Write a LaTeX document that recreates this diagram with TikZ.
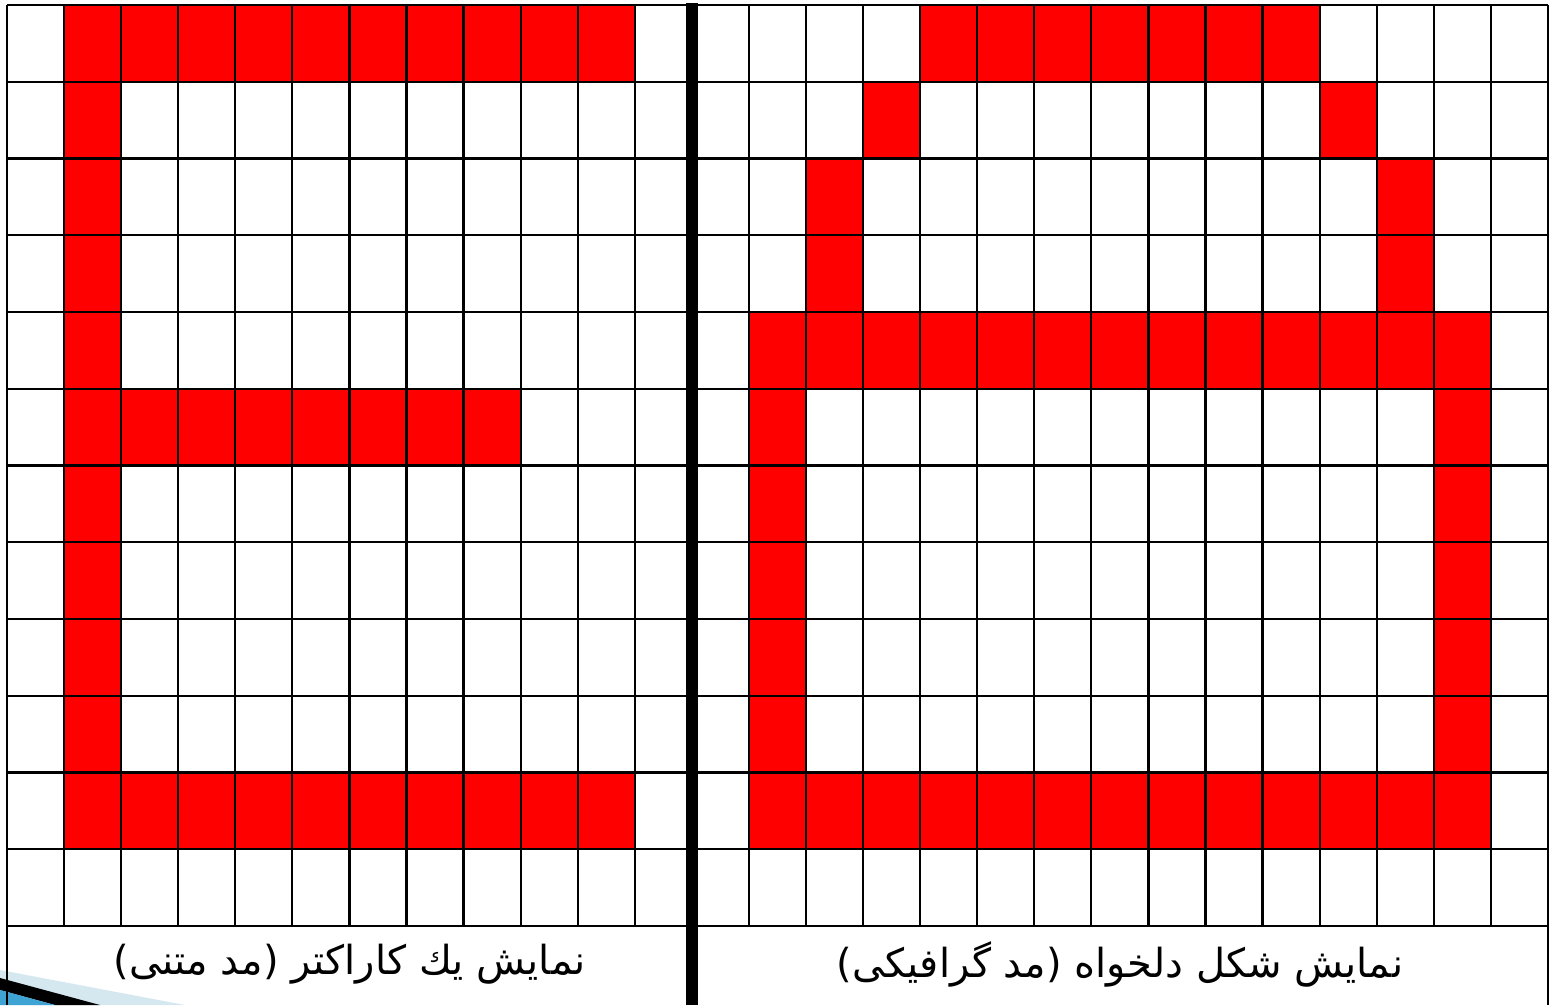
\documentclass[tikz,border=0pt]{standalone}
\usepackage{fontspec}
\newfontfamily\arabicfont[Script=Arabic]{DejaVu Sans}
\TeXXeTstate=1
\definecolor{cellred}{HTML}{FF0000}
\definecolor{decolight}{HTML}{D5E8F0}
\definecolor{decomid}{HTML}{3FA3D4}
\newcommand\redcell[2]{\fill[cellred] ({7+#1*57.07},{5+#2*76.75}) rectangle ++(57.07,76.75);}
\tikzset{
  gridline/.style={line width=2.2pt, black},
  sepline/.style={line width=12pt, black},
  caption/.style={font=\arabicfont\fontsize{40}{46}\selectfont, inner sep=0pt}
}
\begin{document}
\begin{tikzpicture}[x=1pt,y=-1pt]
\useasboundingbox (0,0) rectangle (1552,1005);
\fill[white] (0,0) rectangle (1552,1005);
% corner decoration
\fill[decolight] (0,970) -- (185,1005) -- (0,1005) -- cycle;
\fill[black] (0,978) -- (100,1005) -- (55,1005) -- (0,990) -- cycle;
\fill[decomid] (0,990) -- (55,1005) -- (0,1005) -- cycle;
% left grid red cells
\foreach \c in {1,...,10} {\redcell{\c}{0}\redcell{\c}{10}}
\foreach \r in {1,...,9} {\redcell{1}{\r}}
\foreach \c in {2,...,8} {\redcell{\c}{5}}
% right grid red cells
\foreach \c in {16,...,22} {\redcell{\c}{0}}
\redcell{15}{1}\redcell{23}{1}
\foreach \r in {2,3} {\redcell{14}{\r}\redcell{24}{\r}}
\foreach \c in {13,...,25} {\redcell{\c}{4}\redcell{\c}{10}}
\foreach \r in {5,...,9} {\redcell{13}{\r}\redcell{25}{\r}}
% grid lines
\foreach \r in {0,...,12} {\draw[gridline] (7,{5+\r*76.75}) -- (1548,{5+\r*76.75});}
\foreach \c in {1,...,26} {\draw[gridline] ({7+\c*57.07},5) -- ({7+\c*57.07},926);}
\draw[gridline] (7,5) -- (7,1005);
\draw[gridline] (1548,5) -- (1548,1005);
\draw[sepline] (692,3) -- (692,1005);
% captions
\node[caption] (lt) at (349.5,964) {\beginR نمایش یك كاراكتر (مد متنی)\endR};
\node[caption] (rt) at (1120,964) {\beginR نمایش شکل دلخواه (مد گرافیکی)\endR};
\end{tikzpicture}
\end{document}
